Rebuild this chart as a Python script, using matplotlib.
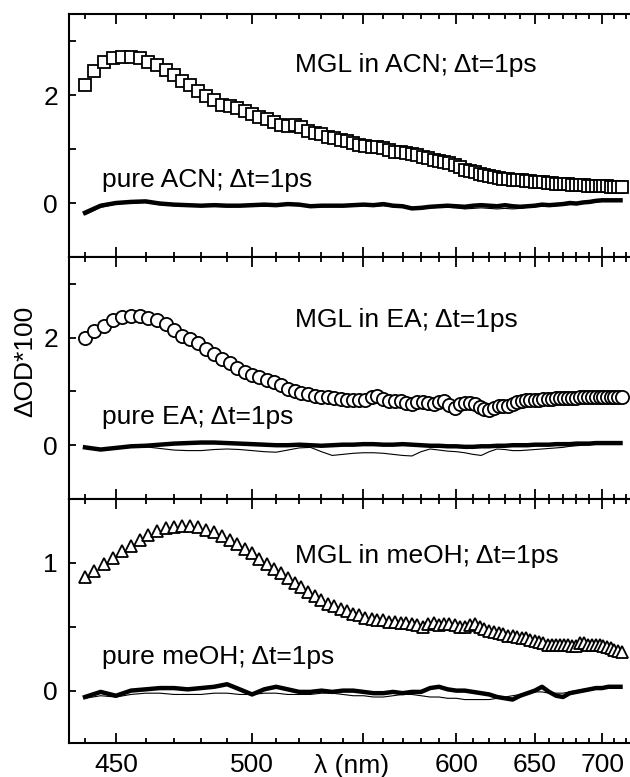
import numpy as np
import matplotlib
matplotlib.use("Agg")
import matplotlib.pyplot as plt
from matplotlib.ticker import FixedLocator, NullFormatter

plt.rcParams['font.family'] = ['Liberation Sans', 'DejaVu Sans']
plt.rcParams['font.size'] = 19

# wavelengths of the marker series (nm)
lam_m = [440, 443, 446, 449, 452, 455, 458, 461, 464, 467,
         470, 473, 476, 479, 482, 485, 488, 491, 494, 497,
         500, 503, 506, 509, 512, 515, 518, 521, 524, 527,
         530, 533, 536, 539, 542, 545, 548, 551, 554, 557,
         560, 563, 566, 569, 572, 575, 578, 581, 584, 587,
         590, 593, 596, 599, 602, 605, 608, 611, 614, 617,
         620, 623, 626, 629, 632, 635, 638, 641, 644, 647,
         650, 653, 656, 659, 662, 665, 668, 671, 674, 677,
         680, 683, 686, 689, 692, 695, 698, 701, 704, 707,
         710, 713, 716]

mgl_acn = [2.18, 2.45, 2.61, 2.68, 2.71, 2.71, 2.69, 2.62, 2.55, 2.47,
           2.37, 2.26, 2.18, 2.08, 1.98, 1.90, 1.82, 1.79, 1.76, 1.71,
           1.65, 1.60, 1.56, 1.50, 1.44, 1.42, 1.44, 1.40, 1.34, 1.29,
           1.27, 1.23, 1.20, 1.17, 1.14, 1.12, 1.08, 1.05, 1.03, 1.03,
           1.02, 0.98, 0.95, 0.94, 0.92, 0.90, 0.89, 0.86, 0.83, 0.80,
           0.78, 0.76, 0.74, 0.70, 0.66, 0.62, 0.60, 0.57, 0.54, 0.52,
           0.50, 0.48, 0.46, 0.45, 0.44, 0.43, 0.43, 0.42, 0.41, 0.40,
           0.39, 0.38, 0.38, 0.37, 0.37, 0.36, 0.36, 0.35, 0.35, 0.34,
           0.34, 0.33, 0.33, 0.32, 0.32, 0.32, 0.31, 0.31, 0.31, 0.30,
           0.30, 0.30, 0.30]

mgl_ea = [2.00, 2.12, 2.22, 2.33, 2.39, 2.41, 2.40, 2.37, 2.33, 2.25,
          2.14, 2.04, 1.97, 1.91, 1.79, 1.69, 1.60, 1.53, 1.44, 1.37,
          1.31, 1.27, 1.22, 1.18, 1.12, 1.04, 1.00, 0.98, 0.96, 0.92,
          0.90, 0.89, 0.88, 0.86, 0.85, 0.85, 0.84, 0.85, 0.89, 0.91,
          0.86, 0.82, 0.83, 0.82, 0.78, 0.77, 0.81, 0.81, 0.78, 0.76,
          0.80, 0.82, 0.75, 0.70, 0.76, 0.79, 0.79, 0.77, 0.72, 0.68,
          0.66, 0.69, 0.73, 0.73, 0.73, 0.77, 0.81, 0.83, 0.84, 0.85,
          0.85, 0.85, 0.86, 0.86, 0.86, 0.87, 0.87, 0.87, 0.88, 0.88,
          0.88, 0.89, 0.89, 0.89, 0.90, 0.89, 0.90, 0.90, 0.90, 0.90,
          0.90, 0.90, 0.90]

mgl_meoh = [0.89, 0.94, 0.99, 1.04, 1.09, 1.13, 1.18, 1.22, 1.25, 1.27,
            1.28, 1.29, 1.29, 1.28, 1.26, 1.24, 1.21, 1.18, 1.15, 1.11,
            1.08, 1.03, 0.99, 0.95, 0.92, 0.88, 0.84, 0.81, 0.77, 0.74,
            0.71, 0.68, 0.66, 0.64, 0.62, 0.60, 0.59, 0.57, 0.56, 0.55,
            0.55, 0.54, 0.54, 0.53, 0.53, 0.52, 0.51, 0.50, 0.52, 0.53,
            0.51, 0.52, 0.52, 0.51, 0.50, 0.50, 0.51, 0.52, 0.50, 0.48,
            0.47, 0.46, 0.45, 0.44, 0.43, 0.43, 0.42, 0.41, 0.41, 0.40,
            0.39, 0.38, 0.37, 0.36, 0.36, 0.36, 0.36, 0.36, 0.36, 0.35,
            0.35, 0.37, 0.37, 0.36, 0.36, 0.36, 0.36, 0.35, 0.34, 0.33,
            0.32, 0.31, 0.30]

# wavelengths of the pure-solvent traces (nm)
lam_l = [440, 445, 450, 455, 460, 465, 470, 475, 480, 485,
         490, 495, 500, 505, 510, 515, 520, 525, 530, 535,
         540, 545, 550, 555, 560, 565, 570, 575, 580, 585,
         590, 595, 600, 605, 610, 615, 620, 625, 630, 635,
         640, 645, 650, 655, 660, 665, 670, 675, 680, 685,
         690, 695, 700, 705, 710, 715]

acn_thick = [-0.18, -0.05, 0.00, 0.02, 0.03, -0.01, -0.03, -0.04, -0.05, -0.04,
             -0.05, -0.05, -0.04, -0.03, -0.04, -0.02, -0.03, -0.06, -0.05, -0.05,
             -0.05, -0.04, -0.03, -0.04, -0.02, -0.05, -0.06, -0.10, -0.09, -0.07,
             -0.06, -0.05, -0.06, -0.07, -0.05, -0.04, -0.05, -0.06, -0.04, -0.06,
             -0.07, -0.06, -0.05, -0.03, -0.04, -0.03, -0.02, 0.00, -0.01, 0.01,
             0.02, 0.04, 0.05, 0.05, 0.05, 0.05]
acn_thin = [-0.22, -0.08, -0.02, 0.00, 0.01, -0.03, -0.05, -0.05, -0.06, -0.06,
            -0.07, -0.06, -0.05, -0.06, -0.05, -0.04, -0.05, -0.07, -0.07, -0.06,
            -0.07, -0.06, -0.05, -0.06, -0.05, -0.07, -0.08, -0.11, -0.11, -0.09,
            -0.08, -0.08, -0.09, -0.11, -0.10, -0.09, -0.10, -0.11, -0.10, -0.11,
            -0.10, -0.08, -0.07, -0.06, -0.06, -0.05, -0.04, -0.03, -0.02, -0.01,
            0.00, 0.02, 0.03, 0.04, 0.04, 0.04]

ea_thick = [-0.04, -0.08, -0.05, -0.02, -0.01, 0.01, 0.03, 0.04, 0.05, 0.05,
            0.04, 0.03, 0.02, 0.01, 0.00, 0.00, 0.01, 0.00, -0.01, 0.00,
            0.01, 0.01, 0.02, 0.02, 0.01, 0.01, 0.02, 0.01, 0.00, -0.01,
            -0.01, -0.02, -0.02, -0.03, -0.03, -0.02, -0.02, -0.01, -0.01, 0.00,
            0.00, 0.00, 0.01, 0.01, 0.01, 0.02, 0.02, 0.02, 0.03, 0.03,
            0.03, 0.04, 0.04, 0.04, 0.04, 0.04]
ea_thin = [-0.05, -0.09, -0.06, -0.03, -0.03, -0.06, -0.09, -0.10, -0.10, -0.08,
           -0.07, -0.08, -0.10, -0.12, -0.13, -0.09, -0.05, -0.04, -0.12, -0.19,
           -0.17, -0.15, -0.14, -0.14, -0.15, -0.17, -0.19, -0.20, -0.12, -0.07,
           -0.09, -0.11, -0.12, -0.14, -0.17, -0.19, -0.12, -0.07, -0.08, -0.10,
           -0.10, -0.09, -0.08, -0.07, -0.06, -0.05, -0.04, -0.02, -0.01, 0.00,
           0.01, 0.02, 0.02, 0.03, 0.03, 0.03]

meoh_thick = [-0.05, -0.01, -0.04, 0.00, 0.01, 0.02, 0.02, 0.01, 0.02, 0.03,
              0.05, 0.01, -0.03, 0.01, 0.03, 0.01, -0.01, -0.01, 0.00, -0.01,
              0.00, 0.00, -0.01, -0.02, -0.02, -0.01, -0.02, -0.01, -0.01, 0.02,
              0.03, 0.01, 0.00, 0.00, -0.01, -0.02, -0.03, -0.05, -0.06, -0.07,
              -0.04, -0.02, 0.00, 0.03, -0.01, -0.04, -0.05, -0.02, -0.01, 0.00,
              0.01, 0.02, 0.02, 0.03, 0.03, 0.03]
meoh_thin = [-0.06, -0.04, -0.05, -0.03, -0.02, -0.02, -0.03, -0.03, -0.03, -0.02,
             -0.02, -0.03, -0.03, -0.02, -0.02, -0.03, -0.03, -0.03, -0.02, -0.02,
             -0.03, -0.04, -0.04, -0.05, -0.05, -0.04, -0.03, -0.03, -0.04, -0.05,
             -0.05, -0.06, -0.06, -0.07, -0.07, -0.07, -0.07, -0.06, -0.05, -0.04,
             -0.03, -0.02, -0.01, -0.01, -0.02, -0.02, -0.02, -0.01, 0.00, 0.01,
             0.01, 0.02, 0.02, 0.02, 0.03, 0.03]

solvents = ["ACN", "EA", "meOH"]
major_x = [450, 500, 550, 600, 650, 700]
minor_x = list(range(440, 730, 10))


def inv_lam(x):
    # axis is linear in wavenumber
    with np.errstate(divide='ignore'):
        return -1.0 / np.asarray(x, dtype=float)


fig = plt.figure(figsize=(6.3, 7.77), dpi=100)
W, H = 630.0, 777.0
# panel pixel extents (top, bottom)
panels = [(14, 257), (257, 499), (499, 743)]

mgl = [mgl_acn, mgl_ea, mgl_meoh]
thick = [acn_thick, ea_thick, meoh_thick]
thin = [acn_thin, ea_thin, meoh_thin]
markers = [('s', 8), ('o', 9.5), ('^', 9)]
ylims = [(-1.0, 3.5), (-1.0, 3.5), (-0.41, 1.5)]
ymaj = [[0, 2], [0, 2], [0, 1]]
ymin = [[1, 3], [1, 3], [0.5]]
txt_y = [(2.43, 0.29), (2.20, 0.39), (1.00, 0.21)]

axes = []
for i in range(3):
    top, bot = panels[i]
    ax = fig.add_axes([69 / W, 1 - bot / H, 1 - 69 / W, (bot - top) / H])
    ax.set_xscale('function', functions=(inv_lam, inv_lam))
    ax.set_xlim(435, 723)
    ax.set_ylim(*ylims[i])

    ax.plot(lam_l, thin[i], color='black', lw=0.8, zorder=2)
    ax.plot(lam_l, thick[i], color='black', lw=3.2, zorder=3)
    m, ms = markers[i]
    ax.plot(lam_m, mgl[i], ls='none', marker=m, ms=ms, mfc='white',
            mec='black', mew=1.3, zorder=4)

    ax.xaxis.set_major_locator(FixedLocator(major_x))
    ax.xaxis.set_minor_locator(FixedLocator(minor_x))
    ax.yaxis.set_major_locator(FixedLocator(ymaj[i]))
    ax.yaxis.set_minor_locator(FixedLocator(ymin[i]))
    ax.xaxis.set_minor_formatter(NullFormatter())
    ax.tick_params(axis='x', which='major', direction='in', length=7, width=1.3,
                   top=True, bottom=True, pad=7)
    ax.tick_params(axis='x', which='minor', direction='in', length=3.5, width=1.3,
                   top=True, bottom=True)
    ax.tick_params(axis='y', which='both', direction='in', length=5, width=1.3,
                   right=False, pad=8)
    ax.spines['right'].set_visible(False)
    for s in ['left', 'top', 'bottom']:
        ax.spines[s].set_linewidth(1.5)

    ax.text(518, txt_y[i][0], "MGL in %s; Δt=1ps" % solvents[i], va='baseline')
    ax.text(445.5, txt_y[i][1], "pure %s; Δt=1ps" % solvents[i], va='baseline')

    if i < 2:
        ax.set_xticklabels([])
    else:
        ax.set_xticklabels(['450', '500', '', '600', '650', '700'])
        ax.text(544, -0.123, "λ (nm)", transform=ax.get_xaxis_transform(),
                ha='center', va='baseline')
    axes.append(ax)

fig.text(25 / W, 1 - 361 / H, "ΔOD*100", rotation=90, ha='center', va='center')

fig.savefig("out.png", dpi=100)
